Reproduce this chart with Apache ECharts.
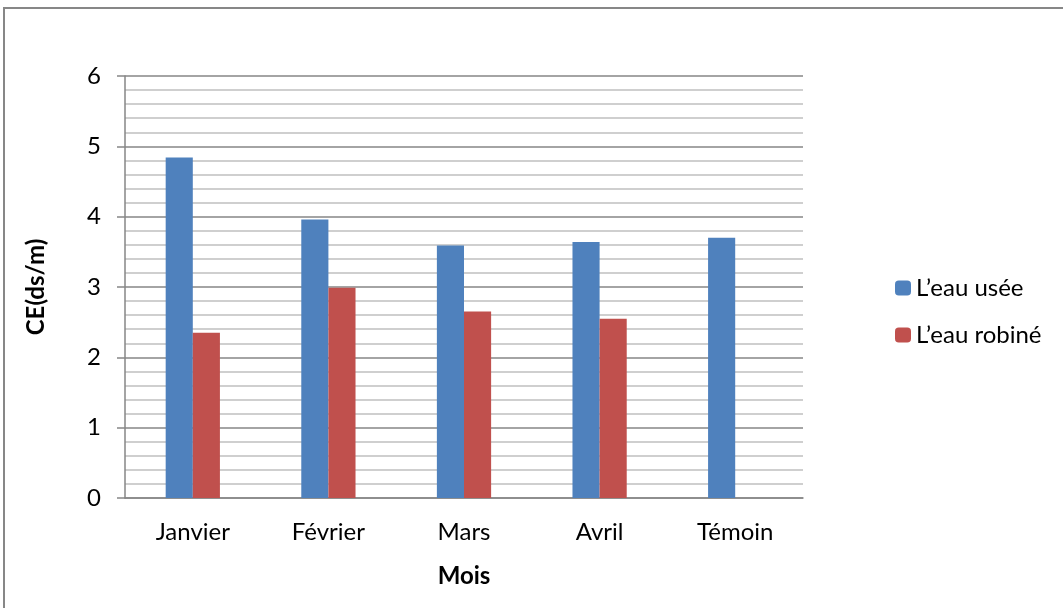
<!DOCTYPE html>
<html>
<head>
<meta charset="utf-8">
<script src="https://cdn.jsdelivr.net/npm/echarts@6/dist/echarts.min.js"></script>
<style>
  html, body { margin: 0; padding: 0; background: #fff; }
  #chart { width: 1063px; height: 608px; }
</style>
</head>
<body>
<div id="chart"></div>
<script>
// Conductivité électrique mensuelle (ds/m)
const months = ['Janvier', 'Février', 'Mars', 'Avril', 'Témoin'];
const eauUsee = [4.84, 3.96, 3.59, 3.64, 3.70];
const eauRobine = [2.35, 2.99, 2.65, 2.55, null];
const seriesNames = ['L\u2019eau usée', 'L\u2019eau robiné'];

const FONT = 'Lato, "Open Sans", sans-serif';
const chart = echarts.init(document.getElementById('chart'));

chart.setOption({
  backgroundColor: '#ffffff',
  animation: false,
  textStyle: { fontFamily: FONT, color: '#000' },
  graphic: [{
    type: 'rect',
    shape: { x: 4, y: 8, width: 1080, height: 620 },
    style: { fill: 'none', stroke: '#878787', lineWidth: 2 },
    silent: true
  }],
  grid: { left: 125, right: 260, top: 76, bottom: 110 },
  legend: {
    orient: 'vertical',
    left: 890,
    top: 271,
    itemWidth: 16,
    itemHeight: 15,
    itemGap: 23,
    textStyle: { fontSize: 24, fontFamily: FONT, color: '#000' },
    data: seriesNames
  },
  xAxis: {
    type: 'category',
    data: months,
    name: 'Mois',
    nameLocation: 'middle',
    nameGap: 66,
    nameTextStyle: { fontSize: 24, fontWeight: 'bold', fontFamily: FONT, color: '#000' },
    axisLine: { lineStyle: { color: '#868686', width: 1.5 } },
    axisTick: { show: false },
    axisLabel: { fontSize: 24, margin: 22, color: '#000', fontFamily: FONT }
  },
  yAxis: {
    type: 'value',
    min: 0,
    max: 6,
    interval: 1,
    name: 'CE(ds/m)',
    nameLocation: 'middle',
    nameGap: 77,
    nameTextStyle: { fontSize: 24, fontWeight: 'bold', fontFamily: FONT, color: '#000' },
    axisLine: { show: true, lineStyle: { color: '#868686', width: 1.5 } },
    axisTick: { show: true, length: 8, lineStyle: { color: '#868686', width: 1.5 } },
    axisLabel: { fontSize: 24, margin: 24, color: '#000', fontFamily: FONT },
    splitLine: { show: true, lineStyle: { color: '#868686', width: 1.5 } },
    minorTick: { show: false, splitNumber: 5 },
    minorSplitLine: { show: true, lineStyle: { color: '#c0c0c0', width: 1.5 } }
  },
  series: [
    {
      name: seriesNames[0],
      type: 'bar',
      data: eauUsee,
      barGap: '0%',
      barCategoryGap: '60%',
      itemStyle: { color: '#4F81BD' }
    },
    {
      name: seriesNames[1],
      type: 'bar',
      data: eauRobine,
      itemStyle: { color: '#C0504D' }
    }
  ]
});
</script>
</body>
</html>
